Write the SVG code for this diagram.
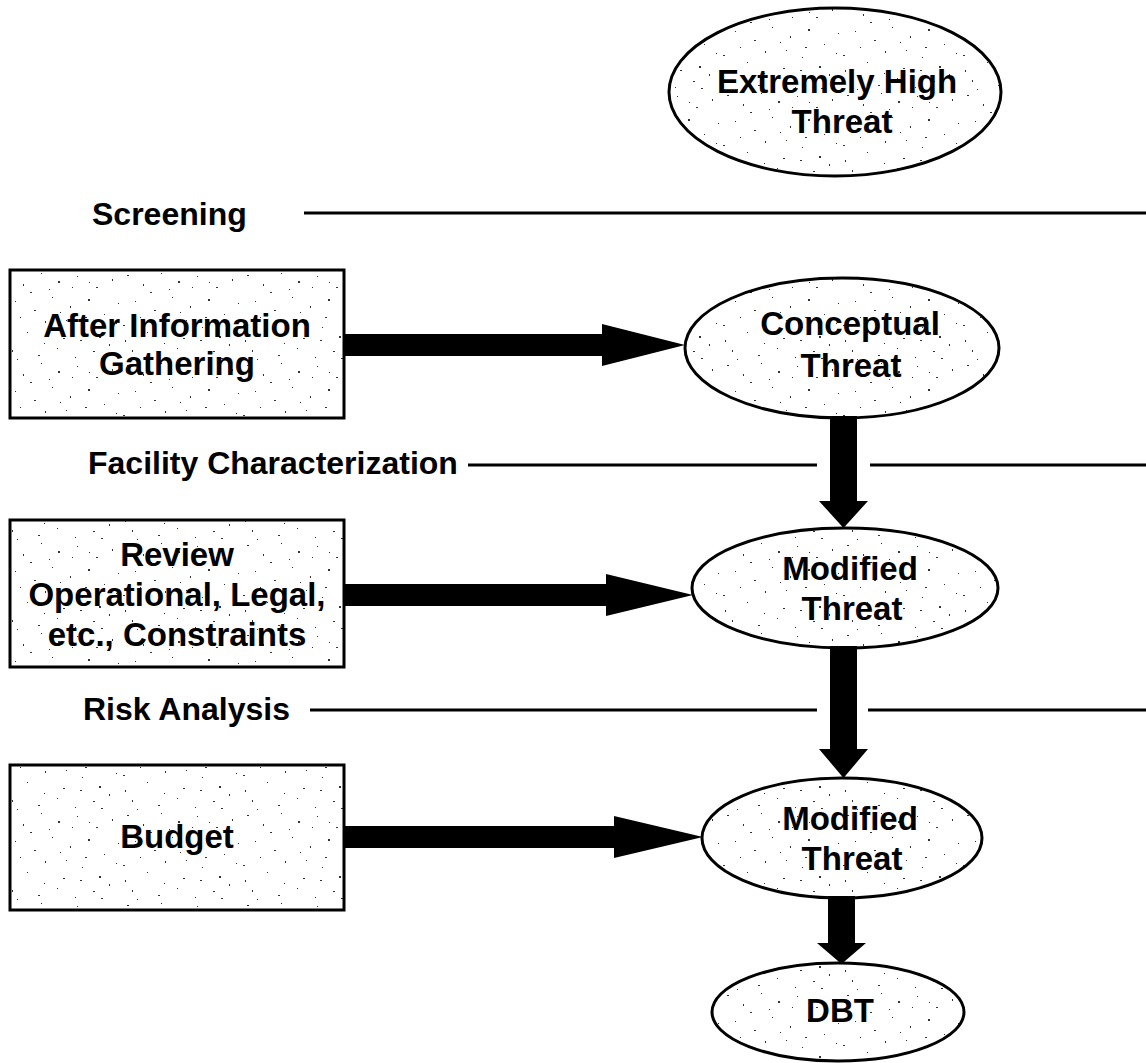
<svg xmlns="http://www.w3.org/2000/svg" width="1146" height="1063" viewBox="0 0 1146 1063">
  <defs>
    <!-- irregular stipple used as the fill of every node -->
    <pattern id="speckle" width="120" height="90" patternUnits="userSpaceOnUse">
      <rect width="120" height="90" fill="#ffffff"/>
      <g fill="#333">
        <rect x="7" y="5" width="2" height="1"/>
        <rect x="23" y="14" width="1" height="2"/>
        <rect x="41" y="3" width="1" height="1"/>
        <rect x="58" y="11" width="2" height="2"/>
        <rect x="77" y="6" width="1" height="1"/>
        <rect x="96" y="17" width="2" height="1"/>
        <rect x="112" y="9" width="1" height="2"/>
        <rect x="15" y="31" width="1" height="1"/>
        <rect x="34" y="40" width="2" height="1"/>
        <rect x="52" y="27" width="1" height="1"/>
        <rect x="70" y="36" width="1" height="2"/>
        <rect x="88" y="29" width="2" height="2"/>
        <rect x="104" y="44" width="1" height="1"/>
        <rect x="3" y="55" width="2" height="1"/>
        <rect x="27" y="62" width="1" height="1"/>
        <rect x="45" y="51" width="1" height="2"/>
        <rect x="63" y="68" width="2" height="1"/>
        <rect x="82" y="57" width="1" height="1"/>
        <rect x="99" y="66" width="2" height="2"/>
        <rect x="116" y="53" width="1" height="1"/>
        <rect x="12" y="80" width="1" height="2"/>
        <rect x="38" y="85" width="2" height="1"/>
        <rect x="57" y="78" width="1" height="1"/>
        <rect x="75" y="87" width="1" height="1"/>
        <rect x="93" y="81" width="2" height="1"/>
        <rect x="109" y="74" width="1" height="2"/>
        <rect x="49" y="19" width="1" height="1"/>
        <rect x="85" y="47" width="2" height="1"/>
        <rect x="20" y="47" width="1" height="1"/>
        <rect x="66" y="50" width="1" height="1"/>
        <rect x="30" y="22" width="2" height="1"/>
        <rect x="118" y="33" width="1" height="1"/>
        <rect x="5" y="70" width="1" height="2"/>
        <rect x="72" y="17" width="1" height="1"/>
        <rect x="101" y="88" width="2" height="1"/>
        <rect x="60" y="42" width="1" height="1"/>
        <rect x="44" y="73" width="1" height="1"/>
        <rect x="89" y="12" width="1" height="1"/>
        <rect x="17" y="89" width="1" height="1"/>
        <rect x="80" y="70" width="2" height="1"/>
      </g>
    </pattern>
  </defs>
  <style>
    .box { fill: url(#speckle); stroke: #000; stroke-width: 3; }
    .oval { fill: url(#speckle); stroke: #000; stroke-width: 3; }
    .label { font-family: "Liberation Sans", Arial, Helvetica, sans-serif; font-weight: bold; font-size: 33px; fill: #000; text-anchor: middle; }
    .phase { font-family: "Liberation Sans", Arial, Helvetica, sans-serif; font-weight: bold; font-size: 32px; fill: #000; }
    .rule { stroke: #000; stroke-width: 3; fill: none; }
    .arrow { fill: #000; stroke: none; }
  </style>
  <rect width="1146" height="1063" fill="#ffffff"/>

  <!-- phase divider lines with their labels -->
  <g id="phases">
    <text class="phase" x="92" y="225">Screening</text>
    <line class="rule" x1="304" y1="213" x2="1146" y2="213"/>
    <text class="phase" x="88" y="474">Facility Characterization</text>
    <line class="rule" x1="468" y1="465" x2="817" y2="465"/>
    <line class="rule" x1="870" y1="465" x2="1146" y2="465"/>
    <text class="phase" x="83" y="720">Risk Analysis</text>
    <line class="rule" x1="310" y1="710" x2="817" y2="710"/>
    <line class="rule" x1="868" y1="710" x2="1146" y2="710"/>
  </g>

  <!-- threat ellipses -->
  <g id="extremely-high-threat">
    <ellipse class="oval" cx="835" cy="92" rx="166" ry="84"/>
    <text class="label" x="837" y="93">Extremely High</text>
    <text class="label" x="842" y="133">Threat</text>
  </g>
  <g id="conceptual-threat">
    <ellipse class="oval" cx="842" cy="348" rx="157" ry="70"/>
    <text class="label" x="850" y="335">Conceptual</text>
    <text class="label" x="851" y="377">Threat</text>
  </g>
  <g id="modified-threat-1">
    <ellipse class="oval" cx="845" cy="588" rx="153" ry="60"/>
    <text class="label" x="850" y="580">Modified</text>
    <text class="label" x="852" y="620">Threat</text>
  </g>
  <g id="modified-threat-2">
    <ellipse class="oval" cx="842" cy="838" rx="140" ry="60"/>
    <text class="label" x="850" y="830">Modified</text>
    <text class="label" x="852" y="870">Threat</text>
  </g>
  <g id="dbt">
    <ellipse class="oval" cx="838" cy="1012" rx="126" ry="49"/>
    <text class="label" x="840" y="1022">DBT</text>
  </g>

  <!-- input boxes -->
  <g id="after-information-gathering">
    <rect class="box" x="10" y="270" width="334" height="148"/>
    <text class="label" x="177" y="337">After Information</text>
    <text class="label" x="177" y="375">Gathering</text>
  </g>
  <g id="review-constraints">
    <rect class="box" x="10" y="520" width="334" height="147"/>
    <text class="label" x="177" y="566">Review</text>
    <text class="label" x="177" y="606">Operational, Legal,</text>
    <text class="label" x="177" y="646">etc., Constraints</text>
  </g>
  <g id="budget">
    <rect class="box" x="10" y="765" width="334" height="145"/>
    <text class="label" x="177" y="848">Budget</text>
  </g>

  <!-- heavy block arrows -->
  <g id="connectors">
    <polygon class="arrow" points="344,334 602,334 602,324 685,345 602,366 602,356 344,356"/>
    <polygon class="arrow" points="344,584 606,584 606,574 693,595 606,616 606,606 344,606"/>
    <polygon class="arrow" points="344,826 614,826 614,816 703,837 614,858 614,848 344,848"/>
    <polygon class="arrow" points="830,416 857,416 857,501 868,501 843.5,528 819,501 830,501"/>
    <polygon class="arrow" points="830,646 857,646 857,749 868,749 843.5,778 819,749 830,749"/>
    <polygon class="arrow" points="828,896 855,896 855,943 866,943 841.5,964 817,943 828,943"/>
  </g>
</svg>
